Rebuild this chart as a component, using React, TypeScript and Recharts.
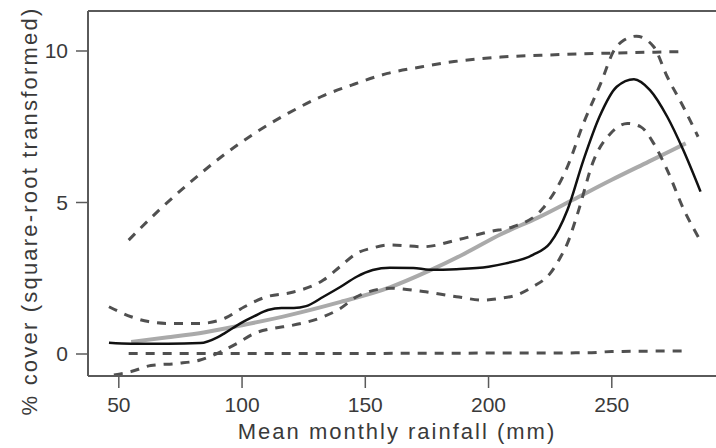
import { LineChart, Line, XAxis, YAxis, ReferenceLine } from 'recharts';

// Fitted GAM curve (black)
const fitX = [46, 55, 70, 83, 90, 93, 99.5, 105, 110.5, 116, 121, 126, 133, 140, 146.5, 153, 160, 169.5, 176, 187, 200, 207, 218, 225, 232, 238.5, 245, 252, 259, 265.5, 272.5, 279, 286];
const fitY = [0.37, 0.34, 0.34, 0.36, 0.55, 0.69, 1.02, 1.25, 1.45, 1.52, 1.52, 1.58, 1.89, 2.22, 2.55, 2.77, 2.85, 2.84, 2.78, 2.8, 2.88, 2.99, 3.27, 3.66, 4.75, 6.4, 7.83, 8.82, 9.07, 8.71, 7.83, 6.73, 5.36];

// Upper / lower confidence band of the fit
const upperX = [46, 55, 62, 70, 83, 93, 101, 110, 120, 133, 140, 146.5, 153, 160, 173.5, 187, 200.5, 210, 222, 232, 238.5, 245.5, 251, 255, 260, 267, 272.5, 279, 285];
const upperY = [1.56, 1.23, 1.07, 1.01, 1.01, 1.18, 1.56, 1.89, 2.03, 2.44, 2.9, 3.32, 3.5, 3.6, 3.54, 3.76, 4.04, 4.2, 4.8, 6.18, 7.61, 8.93, 10.03, 10.36, 10.49, 10.14, 9.15, 8.16, 7.17];
const lowerX = [48, 55, 63, 74, 83, 91.5, 98, 105, 113, 120, 133, 140, 146.5, 160, 173.5, 187, 198, 205, 211.5, 218, 225, 229, 232, 236, 242.7, 249.5, 256.3, 261.7, 267, 272.5, 279.3, 285.4];
const lowerY = [-0.69, -0.58, -0.38, -0.31, -0.2, 0.08, 0.35, 0.68, 0.85, 0.94, 1.23, 1.51, 1.89, 2.17, 2.06, 1.89, 1.78, 1.84, 1.95, 2.22, 2.66, 3.17, 3.65, 4.6, 6.4, 7.28, 7.61, 7.5, 6.95, 6.07, 4.75, 3.82];

// Linear-model curve (grey)
const linX = [55, 70, 85, 100, 120, 140, 160, 176, 190, 205, 220, 234, 250, 265, 280];
const linY = [0.4, 0.55, 0.72, 0.95, 1.3, 1.72, 2.2, 2.75, 3.3, 3.95, 4.5, 5.08, 5.75, 6.35, 6.95];

// Outer envelope (dashed)
const outerHiX = [54, 67, 78, 91.5, 105, 118.6, 132, 145.7, 159, 173, 186, 205, 225, 245, 279];
const outerHiY = [3.76, 4.8, 5.6, 6.5, 7.28, 7.94, 8.49, 8.91, 9.26, 9.48, 9.65, 9.8, 9.87, 9.92, 9.98];
const outerLoX = [54, 100, 150, 200, 240, 250, 279];
const outerLoY = [0.02, 0.02, 0.02, 0.03, 0.04, 0.08, 0.1];

const xTicks = [50, 100, 150, 200, 250];
const yTicks = [0, 5, 10];

const X_DOMAIN: [number, number] = [37.5, 293.9];
const Y_DOMAIN: [number, number] = [-0.726, 11.32];

const FONT = '"Liberation Sans", Arial, Helvetica, sans-serif';
const AXIS = '#5a5a5a';
const DASH = '#505050';

function toPoints(xs: number[], ys: number[]) {
  return xs.map((x, i) => ({ x, y: ys[i] }));
}

function XTitle({ viewBox }: any) {
  const cx = viewBox.x + viewBox.width / 2 - 7;
  return (
    <text x={cx} y={viewBox.y + 63} textAnchor="middle" fontFamily={FONT} fontSize={22} letterSpacing={2} fill="#3a3a3a">
      Mean monthly rainfall (mm)
    </text>
  );
}

function YTitle() {
  return (
    <text
      x={37}
      y={211}
      transform="rotate(-90 37 211)"
      textAnchor="middle"
      fontFamily={FONT}
      fontSize={22}
      letterSpacing={2.2}
      fill="#3a3a3a"
    >
      % cover (square-root transformed)
    </text>
  );
}

export default function App() {
  const dashed = { stroke: DASH, strokeWidth: 3, strokeDasharray: '9 8' };
  return (
    <div style={{ position: 'absolute', left: 0, top: 0, width: 716, height: 448, overflow: 'hidden', background: '#fff' }}>
      <LineChart width={724} height={448} margin={{ top: 11, right: 4, left: 8, bottom: 0 }}>
        <XAxis
          dataKey="x"
          type="number"
          domain={X_DOMAIN}
          allowDataOverflow
          ticks={xTicks}
          tickSize={12}
          tickMargin={9}
          height={72}
          axisLine={{ stroke: AXIS, strokeWidth: 2 }}
          tickLine={{ stroke: AXIS, strokeWidth: 1.5 }}
          tick={{ fill: '#3a3a3a', fontSize: 21, fontFamily: FONT }}
          label={<XTitle />}
        />
        <YAxis
          type="number"
          domain={Y_DOMAIN}
          allowDataOverflow
          ticks={yTicks}
          tickSize={12}
          tickMargin={8}
          width={80}
          axisLine={{ stroke: AXIS, strokeWidth: 2 }}
          tickLine={{ stroke: AXIS, strokeWidth: 1.5 }}
          tick={{ fill: '#3a3a3a', fontSize: 21, fontFamily: FONT }}
          label={<YTitle />}
        />
        <ReferenceLine y={Y_DOMAIN[1]} stroke={AXIS} strokeWidth={2} />
        <Line data={toPoints(outerHiX, outerHiY)} dataKey="y" type="monotone" dot={false} isAnimationActive={false} {...dashed} />
        <Line data={toPoints(outerLoX, outerLoY)} dataKey="y" type="monotone" dot={false} isAnimationActive={false} {...dashed} />
        <Line data={toPoints(linX, linY)} dataKey="y" type="monotone" dot={false} isAnimationActive={false} stroke="#aaaaaa" strokeWidth={4} />
        <Line data={toPoints(upperX, upperY)} dataKey="y" type="monotone" dot={false} isAnimationActive={false} {...dashed} />
        <Line data={toPoints(lowerX, lowerY)} dataKey="y" type="monotone" dot={false} isAnimationActive={false} {...dashed} />
        <Line data={toPoints(fitX, fitY)} dataKey="y" type="monotone" dot={false} isAnimationActive={false} stroke="#111" strokeWidth={2.5} />
      </LineChart>
    </div>
  );
}
